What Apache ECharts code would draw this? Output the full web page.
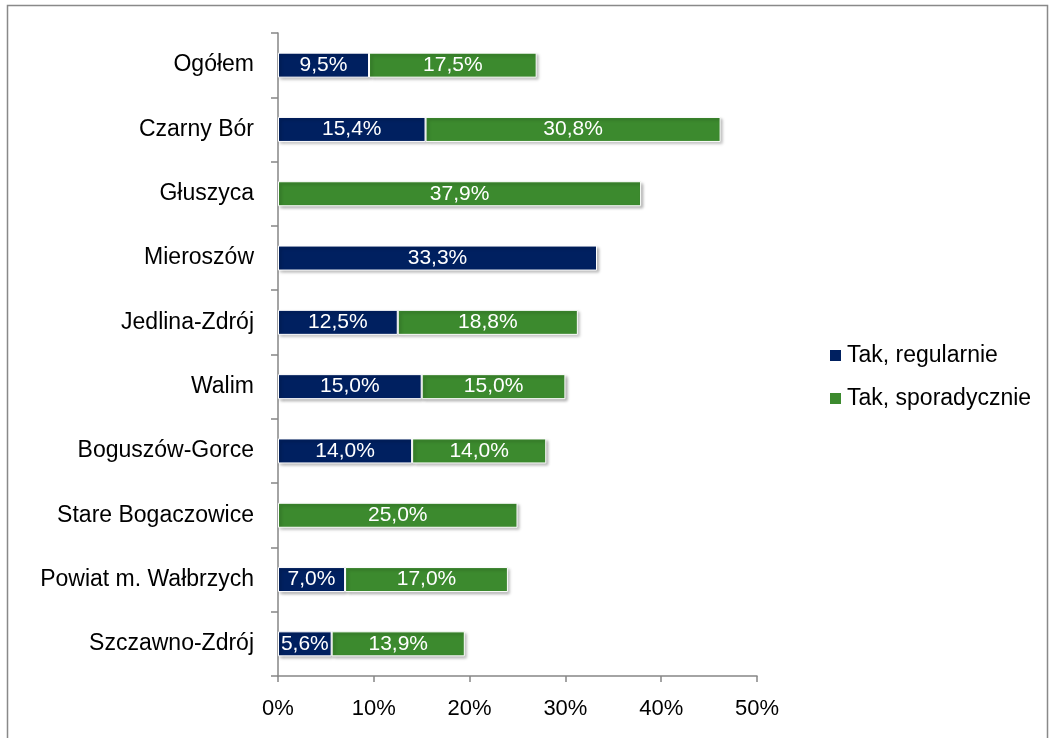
<!DOCTYPE html>
<html>
<head>
<meta charset="utf-8">
<script src="https://cdn.jsdelivr.net/npm/echarts@6/dist/echarts.min.js"></script>
<style>
    html, body { margin: 0; padding: 0; background: #fff; }
    #chart { width: 1053px; height: 738px; }
</style>
</head>
<body>
<div id="chart"></div>
<script>
var categories = ['Ogółem', 'Czarny Bór', 'Głuszyca', 'Mieroszów', 'Jedlina-Zdrój', 'Walim', 'Boguszów-Gorce', 'Stare Bogaczowice', 'Powiat m. Wałbrzych', 'Szczawno-Zdrój'];
var regularnie = [9.5, 15.4, null, 33.3, 12.5, 15.0, 14.0, null, 7.0, 5.6];
var sporadycznie = [17.5, 30.8, 37.9, null, 18.8, 15.0, 14.0, 25.0, 17.0, 13.9];
var seriesNames = ['Tak, regularnie', 'Tak, sporadycznie'];
var xTicks = [0, 10, 20, 30, 40, 50];

var font = 'Liberation Sans';
var axisGray = '#868686';

function fmt(p) {
    return p.value == null ? '' : p.value.toFixed(1).replace('.', ',') + '%';
}

function barSeries(name, data, color) {
    return {
        name: name,
        type: 'bar',
        stack: 'total',
        barWidth: 25,
        data: data,
        itemStyle: {
            color: color,
            borderColor: '#ffffff',
            borderWidth: 1,
            shadowColor: 'rgba(0,0,0,0.3)',
            shadowBlur: 3,
            shadowOffsetX: 2,
            shadowOffsetY: 2
        },
        label: {
            show: true,
            position: 'inside',
            color: '#ffffff',
            fontFamily: font,
            fontSize: 21,
            formatter: fmt
        }
    };
}

var myChart = echarts.init(document.getElementById('chart'), null, { renderer: 'canvas' });
var option = {
    animation: false,
    graphic: [{
        type: 'rect',
        shape: { x: 7.5, y: 5.5, width: 1040, height: 740 },
        style: { fill: 'none', stroke: '#898989', lineWidth: 1.5 },
        silent: true
    }],
    grid: {
        left: 278,
        right: 296,
        top: 33,
        bottom: 62
    },
    legend: {
        orient: 'vertical',
        left: 823,
        top: 339,
        itemWidth: 13,
        itemHeight: 13,
        itemGap: 20,
        icon: 'rect',
        data: seriesNames,
        textStyle: { fontFamily: font, fontSize: 23, color: '#000' }
    },
    xAxis: {
        type: 'value',
        min: xTicks[0],
        max: xTicks[xTicks.length - 1],
        interval: 10,
        splitLine: { show: false },
        axisLine: { show: true, lineStyle: { color: axisGray, width: 1.5 } },
        axisTick: { show: true, length: 6, lineStyle: { color: axisGray, width: 1.5 } },
        axisLabel: {
            margin: 22,
            fontFamily: font,
            fontSize: 22,
            color: '#000',
            formatter: function (v) { return v + '%'; }
        }
    },
    yAxis: {
        type: 'category',
        data: categories,
        inverse: true,
        axisLine: { show: true, lineStyle: { color: axisGray, width: 1.5 } },
        axisTick: { show: true, length: 7, lineStyle: { color: axisGray, width: 1.5 } },
        axisLabel: {
            margin: 24,
            fontFamily: font,
            fontSize: 23,
            color: '#000'
        }
    },
    series: [
        barSeries(seriesNames[0], regularnie, '#002060'),
        barSeries(seriesNames[1], sporadycznie, '#3C8A2E')
    ]
};
myChart.setOption(option);
</script>
</body>
</html>
